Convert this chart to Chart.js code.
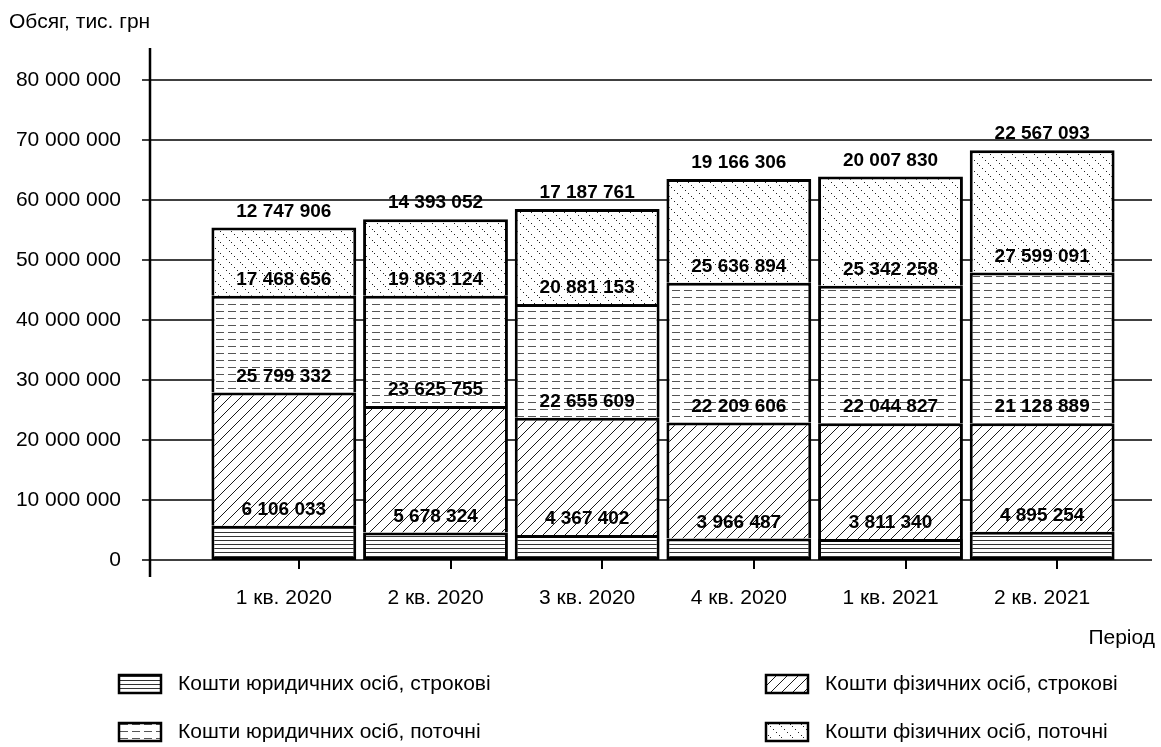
<!DOCTYPE html>
<html lang="uk">
<head>
<meta charset="utf-8">
<title>Обсяг коштів, тис. грн</title>
<script src="https://cdn.jsdelivr.net/npm/chart.js@4.4.1/dist/chart.umd.min.js"></script>
<style>
  html, body { margin: 0; padding: 0; background: #fff; }
  #wrap { width: 1161px; height: 747px; }
</style>
</head>
<body>
<div id="wrap"><canvas id="depositChart" width="1161" height="747"></canvas></div>
<script>
// periods on the x axis
const periods = ['1 кв. 2020', '2 кв. 2020', '3 кв. 2020', '4 кв. 2020', '1 кв. 2021', '2 кв. 2021'];

// segment heights as drawn in the picture (bottom to top)
const legalTermValues = [5700000, 4600000, 4170000, 3600000, 3500000, 4700000];
const personTermValues = [22200000, 21070000, 19530000, 19300000, 19300000, 18100000];
const legalCurrentValues = [16150000, 18380000, 18970000, 23300000, 22900000, 25100000];
const personCurrentValues = [11350000, 12750000, 15830000, 17300000, 18200000, 20400000];

// numbers printed over the segments
const legalTermLabels = ['6 106 033', '5 678 324', '4 367 402', '3 966 487', '3 811 340', '4 895 254'];
const personTermLabels = ['25 799 332', '23 625 755', '22 655 609', '22 209 606', '22 044 827', '21 128 889'];
const legalCurrentLabels = ['17 468 656', '19 863 124', '20 881 153', '25 636 894', '25 342 258', '27 599 091'];
const personCurrentLabels = ['12 747 906', '14 393 052', '17 187 761', '19 166 306', '20 007 830', '22 567 093'];

const seriesNames = [
    'Кошти юридичних осіб, строкові',
    'Кошти фізичних осіб, строкові',
    'Кошти юридичних осіб, поточні',
    'Кошти фізичних осіб, поточні'
];

const yMax = 80000000;
const yStep = 10000000;

const FONT = '"Liberation Sans", Arial, sans-serif';
Chart.defaults.font.family = FONT;
Chart.defaults.color = '#000';

const canvas = document.getElementById('depositChart');
const ctx = canvas.getContext('2d');

// small tile -> repeating pattern
function makePattern(w, h, draw) {
    const tile = document.createElement('canvas');
    tile.width = w;
    tile.height = h;
    const g = tile.getContext('2d');
    g.fillStyle = '#fff';
    g.fillRect(0, 0, w, h);
    draw(g);
    return ctx.createPattern(tile, 'repeat');
}

const hLines = makePattern(4, 4, g => {
    g.fillStyle = '#333';
    g.fillRect(0, 0, 4, 1);
});
const slashLines = makePattern(11, 11, g => {
    g.strokeStyle = '#000';
    g.lineWidth = 0.9;
    g.beginPath();
    g.moveTo(-1, 12); g.lineTo(12, -1);
    g.moveTo(-2, 1); g.lineTo(1, -2);
    g.moveTo(10, 13); g.lineTo(13, 10);
    g.stroke();
});
const dashLines = makePattern(12, 7, g => {
    g.fillStyle = '#555';
    g.fillRect(0, 3, 8, 1);
});
const dotLines = makePattern(11, 11, g => {
    g.fillStyle = '#222';
    [0, 3, 6, 9].forEach(k => g.fillRect(k, k, 1, 1));
});

const patterns = [hLines, slashLines, dashLines, dotLines];
const segLabels = [legalTermLabels, personTermLabels, legalCurrentLabels, personCurrentLabels];

function formatThousands(v) {
    return String(v).replace(/\B(?=(\d{3})+(?!\d))/g, ' ');
}

function makeDataset(i, values) {
    return {
        label: seriesNames[i],
        data: values,
        backgroundColor: patterns[i],
        borderColor: '#000',
        borderSkipped: false,
        borderWidth: i === 0 ? 3 : { top: 3, left: 3, right: 3, bottom: 0 },
        categoryPercentage: 1,
        barPercentage: 0.955
    };
}

const framePlugin = {
    id: 'frame',
    beforeDatasetsDraw(chart) {
        const c = chart.ctx;
        const area = chart.chartArea;
        const y = chart.scales.y;
        const x = chart.scales.x;
        const axisX = area.left - 58;
        c.save();
        // horizontal grid lines
        c.strokeStyle = '#000';
        c.lineWidth = 1.5;
        y.ticks.forEach(t => {
            const py = Math.round(y.getPixelForValue(t.value));
            c.beginPath();
            c.moveTo(axisX - 8, py);
            c.lineTo(chart.width - 9, py);
            c.stroke();
        });
        // vertical axis line
        c.lineWidth = 2.5;
        c.beginPath();
        c.moveTo(axisX, area.top - 32);
        c.lineTo(axisX, area.bottom + 17);
        c.stroke();
        // category tick marks (sit a little right of the bar centres)
        const catW = (area.right - area.left) / periods.length;
        c.lineWidth = 2;
        periods.forEach((p, j) => {
            const px = Math.round(x.getPixelForValue(j) + catW * 0.1);
            c.beginPath();
            c.moveTo(px, area.bottom);
            c.lineTo(px, area.bottom + 9);
            c.stroke();
        });
        c.restore();
    },
    afterDatasetsDraw(chart) {
        const c = chart.ctx;
        c.save();
        c.font = 'bold 19px ' + FONT;
        c.fillStyle = '#000';
        c.textAlign = 'center';
        c.textBaseline = 'middle';
        chart.data.datasets.forEach((ds, i) => {
            chart.getDatasetMeta(i).data.forEach((bar, j) => {
                c.fillText(segLabels[i][j], bar.x, bar.y - 16);
            });
        });
        c.restore();
    },
    afterDraw(chart) {
        const c = chart.ctx;
        c.save();
        c.font = '21px ' + FONT;
        c.fillStyle = '#000';
        c.textBaseline = 'middle';
        c.textAlign = 'left';
        c.fillText('Обсяг, тис. грн', 9, 22);
        c.textAlign = 'right';
        c.fillText('Період', chart.width - 6, 638);

        // legend, two columns
        const cols = [119, 766];
        const rows = [675, 723];
        const order = [[0, 0], [1, 0], [0, 1], [1, 1]]; // [col,row] per series
        c.textAlign = 'left';
        order.forEach(([col, row], i) => {
            const bx = cols[col], by = rows[row];
            c.fillStyle = patterns[i];
            c.fillRect(bx, by, 42, 18);
            c.strokeStyle = '#000';
            c.lineWidth = 2.5;
            c.strokeRect(bx, by, 42, 18);
            c.fillStyle = '#000';
            c.fillText(seriesNames[i], bx + 59, by + 9);
        });
        c.restore();
    }
};

new Chart(ctx, {
    type: 'bar',
    data: {
        labels: periods,
        datasets: [
            makeDataset(0, legalTermValues),
            makeDataset(1, personTermValues),
            makeDataset(2, legalCurrentValues),
            makeDataset(3, personCurrentValues)
        ]
    },
    options: {
        responsive: false,
        animation: false,
        devicePixelRatio: 1,
        layout: { padding: { top: 80, right: 43, bottom: 0, left: 0 } },
        plugins: {
            legend: { display: false },
            tooltip: { enabled: false }
        },
        scales: {
            x: {
                stacked: true,
                grid: { display: false, drawTicks: false },
                border: { display: false },
                ticks: { font: { size: 21 }, color: '#000', padding: 26, maxRotation: 0, autoSkip: false },
                afterFit(scale) { scale.height = 187; }
            },
            y: {
                stacked: true,
                min: 0,
                max: yMax,
                grid: { display: false, drawTicks: false },
                border: { display: false },
                ticks: {
                    stepSize: yStep,
                    font: { size: 21 },
                    color: '#000',
                    padding: 87,
                    callback: v => formatThousands(v)
                },
                afterFit(scale) {
                    // big label padding would otherwise push the plot down
                    scale.width = 208;
                    scale.paddingTop = 0;
                    scale.paddingBottom = 0;
                }
            }
        }
    },
    plugins: [framePlugin]
});
</script>
</body>
</html>
